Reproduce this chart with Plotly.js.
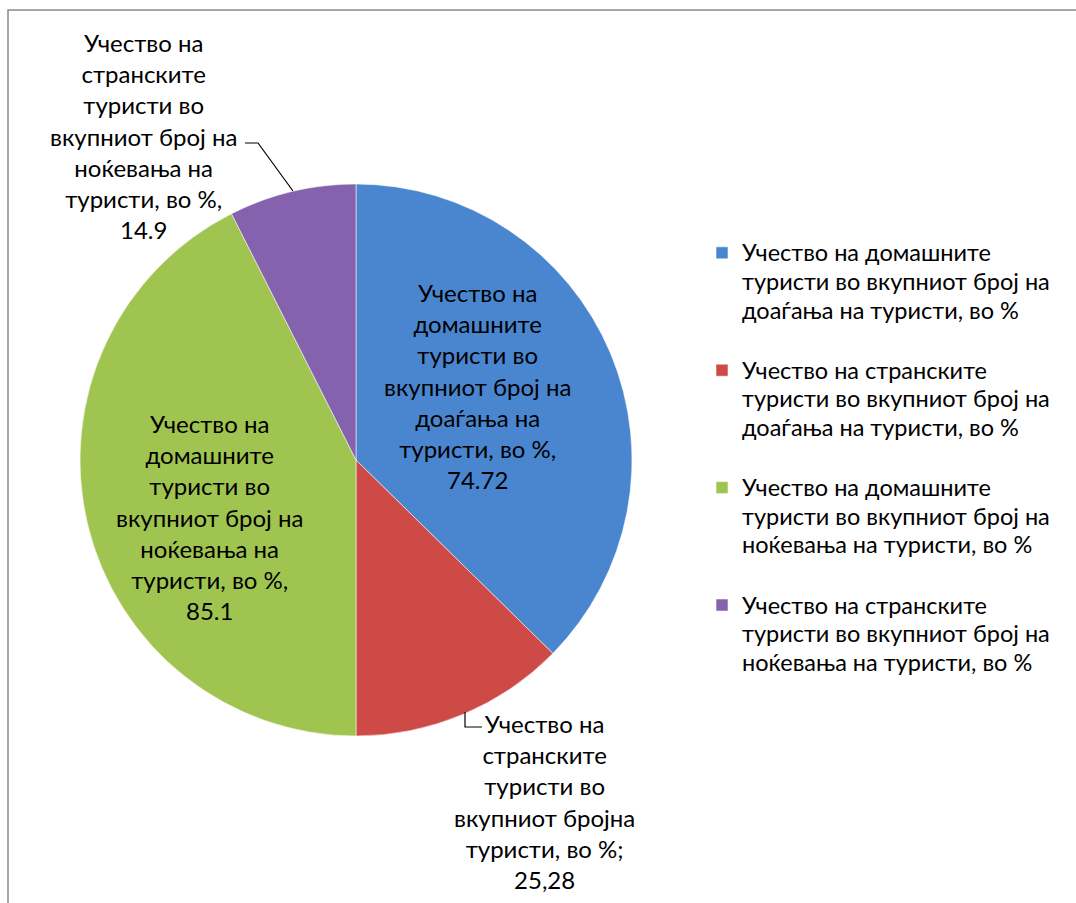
<!DOCTYPE html>
<html>
<head>
<meta charset="utf-8">
<script src="https://cdn.plot.ly/plotly-3.0.1.min.js"></script>
<style>
  html, body { margin: 0; padding: 0; background: #ffffff; }
  #chart { width: 1076px; height: 903px; }
</style>
</head>
<body>
<div id="chart"></div>
<script>
// ---- data ----
const legendLines = [
  ["Учество на домашните", "туристи во вкупниот број на", "доаѓања на туристи, во %"],
  ["Учество на странските", "туристи во вкупниот број на", "доаѓања на туристи, во %"],
  ["Учество на домашните", "туристи во вкупниот број на", "ноќевања на туристи, во %"],
  ["Учество на странските", "туристи во вкупниот број на", "ноќевања на туристи, во %"]
];
const sliceValues = [74.72, 25.28, 85.1, 14.9];
const sliceValueText = ["74.72", "25,28", "85.1", "14.9"];
const dataLabelLines = [
  ["Учество на", "домашните", "туристи во", "вкупниот број на", "доаѓања на", "туристи, во %,"],
  ["Учество на", "странските", "туристи во", "вкупниот бројна", "туристи, во %;"],
  ["Учество на", "домашните", "туристи во", "вкупниот број на", "ноќевања на", "туристи, во %,"],
  ["Учество на", "странските", "туристи во", "вкупниот број на", "ноќевања на", "туристи, во %,"]
];
const sliceColors = ["#4a86d0", "#cd4a47", "#a0c450", "#8462ae"];

// ---- layout helpers (pixel -> paper) ----
const W = 1076, H = 903;
const px = v => v / W;
const py = v => 1 - v / H;

const FONT = "Lato, 'Open Sans', 'Noto Sans', sans-serif";
const LABEL_FS = 24;
const LEGEND_FS = 22;      // controls legend line pitch
const LEGEND_TEXT_FS = 23.5;

// legend entries: each line sized, trailing blank line for spacing between entries
const sliceNames = legendLines.map(lines =>
  lines.map(l => `<span style="font-size:${LEGEND_TEXT_FS}px">${l}</span>`).join("<br>") + "<br> "
);

const labelPos = [
  [477, 386],
  [544, 801],
  [209, 517],
  [143, 136]
];

const annotations = dataLabelLines.map((lines, i) => ({
  xref: "paper", yref: "paper",
  x: px(labelPos[i][0]), y: py(labelPos[i][1]),
  xanchor: "center", yanchor: "middle",
  text: lines.concat([sliceValueText[i]]).join("<br>"),
  showarrow: false,
  align: "center",
  font: { family: FONT, size: LABEL_FS, color: "#000000" }
}));

const shapes = [
  // outer chart frame
  { type: "rect", xref: "paper", yref: "paper",
    x0: px(8), x1: 1.2, y0: -0.2, y1: py(10),
    line: { color: "#8a8a8a", width: 1.5 }, fillcolor: "rgba(0,0,0,0)" },
  // leader line purple
  { type: "path", xref: "paper", yref: "paper",
    path: `M ${px(245)},${py(143)} L ${px(258)},${py(143)} L ${px(293)},${py(191)}`,
    line: { color: "#000000", width: 1.2 } },
  // leader line red
  { type: "path", xref: "paper", yref: "paper",
    path: `M ${px(465)},${py(712)} L ${px(465)},${py(727)} L ${px(482)},${py(727)}`,
    line: { color: "#000000", width: 1.2 } }
];

const trace = {
  type: "pie",
  labels: sliceNames,
  values: sliceValues,
  sort: false,
  direction: "clockwise",
  rotation: 0,
  textinfo: "none",
  hoverinfo: "label+value",
  marker: { colors: sliceColors, line: { color: "rgba(255,255,255,0.55)", width: 1 } },
  domain: { x: [px(80), px(632)], y: [py(736), py(184)] }
};

const layout = {
  width: W, height: H,
  margin: { l: 0, r: 0, t: 0, b: 0, pad: 0 },
  paper_bgcolor: "#ffffff",
  showlegend: true,
  legend: {
    x: px(702), y: py(232), xanchor: "left", yanchor: "top",
    valign: "top",
    font: { family: FONT, size: LEGEND_FS, color: "#000000" },
    itemwidth: 30,
    bgcolor: "rgba(0,0,0,0)"
  },
  annotations: annotations,
  shapes: shapes
};

Plotly.newPlot("chart", [trace], layout, { staticPlot: true });
</script>
</body>
</html>
